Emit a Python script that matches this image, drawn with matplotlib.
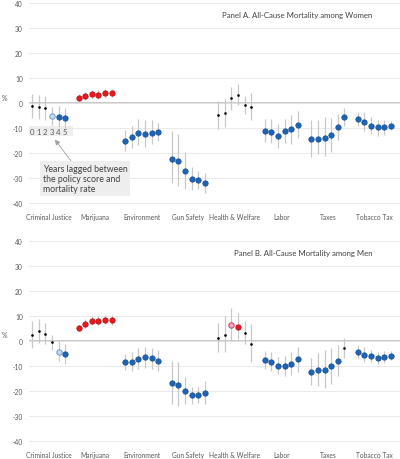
import matplotlib
matplotlib.use("Agg")
import matplotlib.pyplot as plt
from matplotlib.patches import Rectangle

plt.rcParams['font.family'] = ['Lato', 'DejaVu Sans']

categories = ["Criminal Justice", "Marijuana", "Environment", "Gun Safety",
              "Health & Welfare", "Labor", "Taxes", "Tobacco Tax"]
lag_labels = ["0", "1", "2", "3", "4", "5"]

# Panel A: women (estimate, lower, upper) per category, lags 0..5
women_est = [
    [-1.1, -1.6, -2.0, -4.9, -5.3, -5.7],
    [2.3, 3.1, 3.6, 3.5, 4.0, 4.0],
    [-15.1, -13.3, -11.7, -12.1, -11.7, -11.5],
    [-22.3, -23.2, -27.2, -30.1, -30.8, -31.9],
    [-4.8, -3.9, 2.0, 3.5, -0.5, -1.3],
    [-10.9, -11.3, -13.1, -11.1, -10.4, -8.7],
    [-14.4, -14.3, -13.7, -12.8, -9.5, -5.5],
    [-6.1, -7.3, -8.9, -9.6, -9.5, -8.9],
]
women_lo = [
    [-5.9, -6.3, -6.8, -8.5, -9.5, -9.7],
    [0.8, 1.5, 1.7, 1.8, 2.3, 2.4],
    [-19.2, -17.9, -16.8, -17.3, -16.4, -15.1],
    [-31.7, -33.2, -34.1, -34.8, -34.4, -35.9],
    [-10.3, -9.3, -2.5, -0.8, -4.3, -6.5],
    [-15.3, -16.0, -17.7, -15.9, -16.4, -14.0],
    [-21.5, -20.4, -21.2, -19.3, -14.8, -8.9],
    [-9.1, -11.2, -12.1, -13.1, -12.7, -10.7],
]
women_hi = [
    [3.9, 3.3, 2.9, -1.5, -1.2, -1.9],
    [3.8, 4.7, 5.5, 5.2, 5.7, 5.6],
    [-10.5, -9.0, -6.4, -6.8, -6.8, -7.7],
    [-11.2, -12.1, -19.6, -25.5, -27.0, -27.9],
    [0.9, 1.7, 6.7, 7.7, 2.9, 4.0],
    [-6.4, -6.4, -8.3, -6.3, -4.7, -3.2],
    [-6.8, -6.7, -5.6, -5.9, -4.1, -2.0],
    [-3.3, -3.6, -5.5, -6.8, -6.5, -7.2],
]
# k = not significant, lb = marginal negative, b = negative, r = positive, p = marginal positive
women_sig = [
    ["k", "k", "k", "lb", "b", "b"],
    ["r"] * 6,
    ["b"] * 6,
    ["b"] * 6,
    ["k"] * 6,
    ["b"] * 6,
    ["b"] * 6,
    ["b"] * 6,
]

# Panel B: men
men_est = [
    [2.4, 3.9, 2.9, -0.5, -4.3, -5.1],
    [5.1, 6.8, 8.1, 8.1, 8.4, 8.4],
    [-8.5, -8.4, -7.2, -6.5, -6.9, -7.9],
    [-16.9, -17.6, -20.1, -21.6, -21.5, -20.7],
    [1.3, 2.5, 6.3, 5.7, 3.2, -1.1],
    [-7.6, -8.4, -10.1, -10.1, -9.2, -7.3],
    [-12.4, -11.7, -11.5, -10.1, -8.1, -2.8],
    [-4.5, -5.5, -6.1, -6.9, -6.5, -5.9],
]
men_lo = [
    [-2.8, -0.9, -1.2, -3.6, -8.1, -9.1],
    [3.9, 5.0, 6.3, 6.3, 6.6, 6.5],
    [-11.7, -12.0, -11.3, -10.7, -11.1, -11.9],
    [-25.1, -25.9, -25.3, -25.2, -24.8, -25.2],
    [-4.5, -4.4, -0.1, 0.8, -1.3, -8.3],
    [-11.3, -12.0, -13.3, -14.1, -13.5, -12.3],
    [-17.6, -17.9, -18.7, -17.2, -13.9, -6.9],
    [-7.3, -8.3, -8.5, -9.3, -8.7, -7.5],
]
men_hi = [
    [8.1, 8.8, 7.2, 2.5, 0.0, -1.2],
    [6.3, 8.6, 10.0, 10.0, 10.3, 10.4],
    [-5.1, -4.5, -2.8, -2.3, -2.7, -3.6],
    [-8.0, -8.5, -14.5, -18.3, -18.5, -16.1],
    [7.3, 9.9, 13.3, 11.3, 8.0, 6.9],
    [-4.0, -4.4, -6.5, -5.9, -4.5, -2.3],
    [-6.7, -4.7, -3.5, -2.7, -1.6, 1.1],
    [-1.6, -2.4, -3.5, -4.5, -4.0, -4.0],
]
men_sig = [
    ["k", "k", "k", "k", "lb", "b"],
    ["r"] * 6,
    ["b"] * 6,
    ["b"] * 6,
    ["k", "k", "p", "r", "k", "k"],
    ["b"] * 6,
    ["b", "b", "b", "b", "b", "k"],
    ["b"] * 6,
]

styles = {
    "k": dict(marker="o", ms=1.9, mfc="black", mec="black", mew=0),
    "b": dict(marker="o", ms=3.9, mfc="#1F63B5", mec="#174F95", mew=0.5),
    "lb": dict(marker="o", ms=3.9, mfc="#C5D9F0", mec="#6F9BD3", mew=0.7),
    "r": dict(marker="o", ms=3.9, mfc="#E8191E", mec="#B01015", mew=0.5),
    "p": dict(marker="o", ms=3.9, mfc="#F4A5BC", mec="#D0405A", mew=0.7),
}

text_col = "#595959"


def draw_panel(ax, est, lo, hi, sig, title):
    for g in range(len(categories)):
        for j in range(len(lag_labels)):
            x = g * 7 + j
            ax.plot([x, x], [lo[g][j], hi[g][j]], color="#C8C8C8", lw=0.9,
                    solid_capstyle="butt", zorder=2)
            ax.plot([x], [est[g][j]], ls="none", zorder=3, **styles[sig[g][j]])
    ax.set_xlim(-0.45, 55.35)
    ax.set_ylim(-41, 41)
    ax.set_yticks(range(-40, 41, 10))
    ax.set_yticklabels([str(v) for v in range(-40, 41, 10)])
    ax.set_xticks([g * 7 + 2.5 for g in range(len(categories))])
    ax.set_xticklabels(categories)
    ax.tick_params(length=0, labelsize=4.8, colors=text_col)
    ax.tick_params(axis="x", pad=5.5)
    ax.tick_params(axis="y", pad=4.5)
    ax.grid(axis="y", color="#E6E6E6", lw=0.6, zorder=0)
    ax.axhline(0, color="#C0C0C0", lw=1.2, zorder=1)
    for s in ax.spines.values():
        s.set_visible(False)
    ax.text(51.2, 35.5, title, ha="right", va="center", fontsize=5.6,
            color="#404040")
    ax.text(-4.1, 2.5, "%", ha="center", va="center", fontsize=5.0,
            color=text_col, clip_on=False)


fig = plt.figure(figsize=(4, 4.6), dpi=100)
axA = fig.add_axes([0.0725, 0.5504, 0.9275, 0.4457])
axB = fig.add_axes([0.0725, 0.0337, 0.9275, 0.4457])

draw_panel(axA, women_est, women_lo, women_hi, women_sig,
           "Panel A. All-Cause Mortality among Women")
draw_panel(axB, men_est, men_lo, men_hi, men_sig,
           "Panel B. All-Cause Mortality among Men")

# lag legend under the criminal justice group of panel A
axA.add_patch(Rectangle((-0.65, -13.1), 6.75, 4.0, facecolor="#EEEEEE",
                        edgecolor="none", zorder=1.5))
for j, lab in enumerate(lag_labels):
    axA.text(j, -11.1, lab, ha="center", va="center", fontsize=5.6,
             color=text_col, zorder=4)
axA.annotate("", xy=(3.2, -13.6), xytext=(6.3, -24.6),
             arrowprops=dict(arrowstyle="-|>,head_length=0.3,head_width=0.15",
                             color="#A0A0A0", lw=0.6))
axA.text(1.6, -30.1, "Years lagged between\nthe policy score and\nmortality rate",
         ha="left", va="center", fontsize=6.3, color="#404040", linespacing=1.2,
         bbox=dict(boxstyle="square,pad=0.25", facecolor="#EEEEEE",
                   edgecolor="none"), zorder=4)

fig.savefig("out.png", dpi=100)
